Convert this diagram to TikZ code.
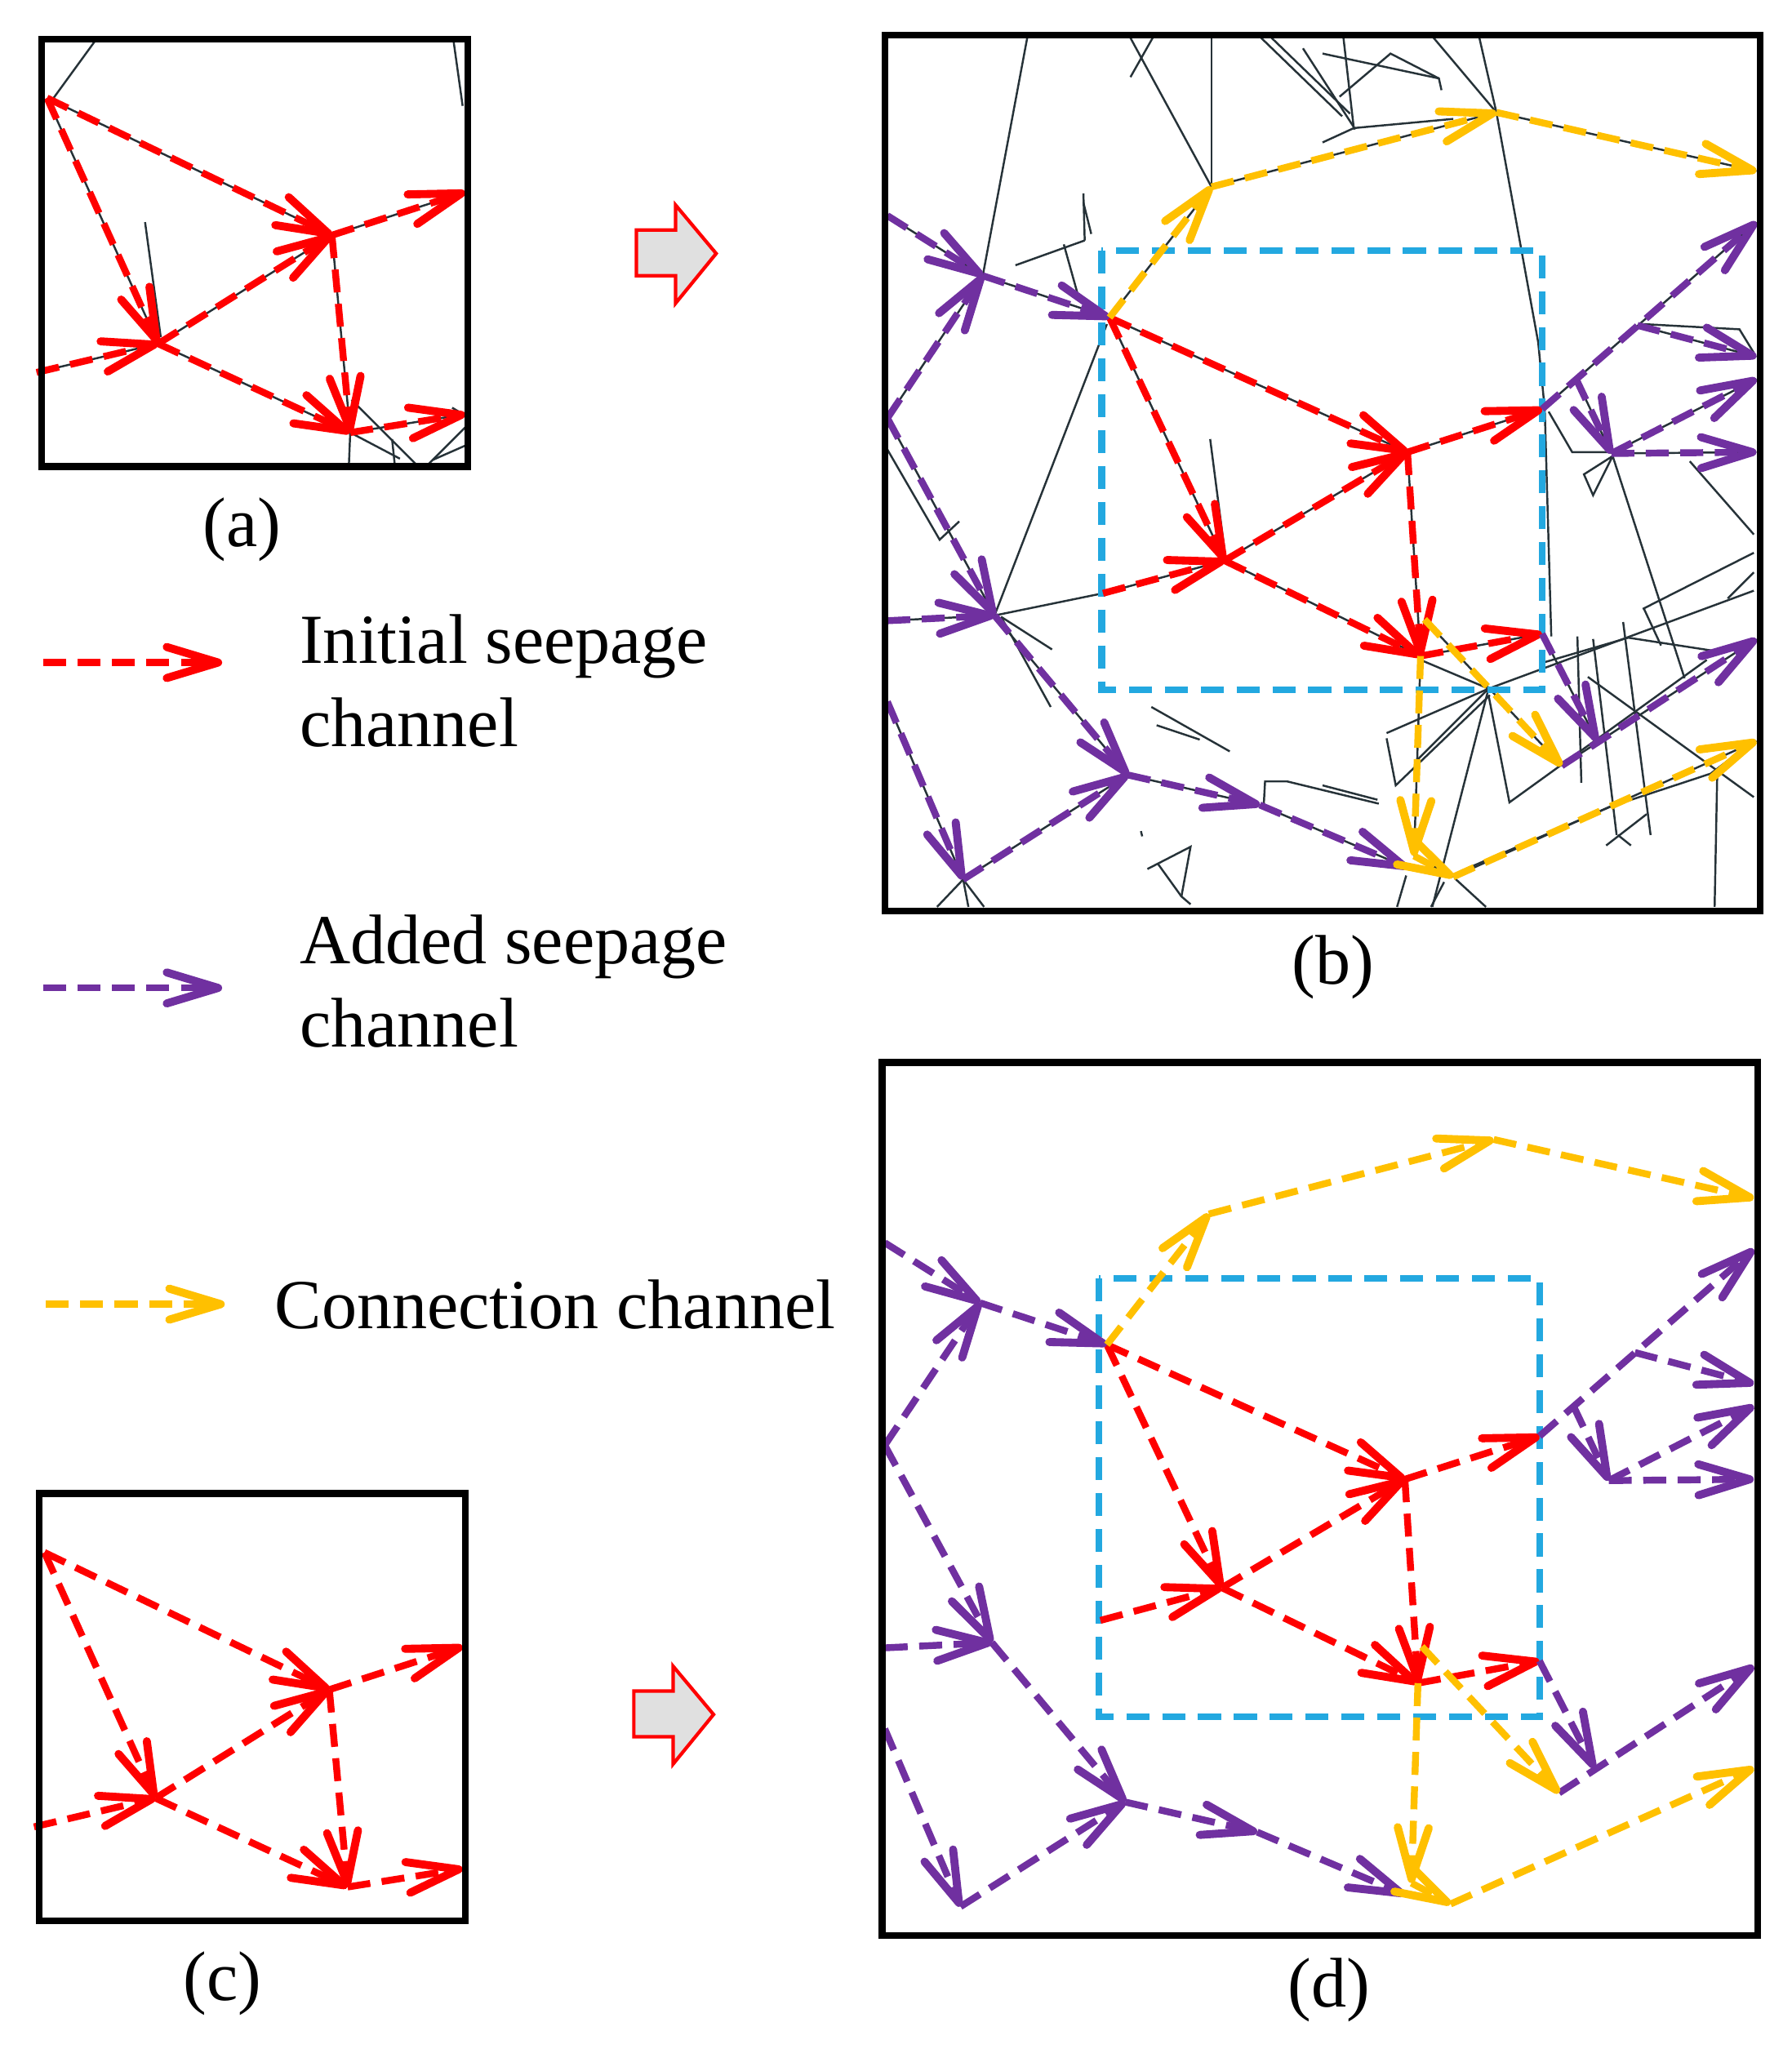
\documentclass[tikz,border=0pt]{standalone}
\usepackage{fontspec}
\setmainfont{Liberation Serif}
\usetikzlibrary{arrows.meta}

\definecolor{seepred}{RGB}{255,0,0}
\definecolor{seeppurple}{RGB}{112,48,160}
\definecolor{seepyellow}{RGB}{255,192,0}
\definecolor{boxblue}{RGB}{35,168,224}
\definecolor{fracgray}{RGB}{38,50,56}

\tikzset{
  chan/.style={line width=2.4pt, dash pattern=on 8pt off 4pt,
    -{Straight Barb[length=6.3mm,width=3.8mm,line width=2.8pt,round]}},
  initial/.style={chan, draw=seepred},
  added/.style={chan, draw=seeppurple},
  conn/.style={chan, draw=seepyellow},
  frac/.style={draw=fracgray, line width=0.7pt},
  panelframe/.style={draw=black, line width=2.4pt},
  zoombox/.style={draw=boxblue, line width=2.3pt, dash pattern=on 8pt off 4.5pt},
  blockarrow/.style={draw=seepred, line width=1.2pt, fill=black!12},
  lbl/.style={font=\fontsize{24.5}{29}\selectfont, inner sep=0pt}
}

% small network of panels (a) and (c)
\newcommand{\initcoords}{%
  \coordinate (s)  at (36,75);
  \coordinate (n1) at (254,180);
  \coordinate (n2) at (121,263);
  \coordinate (n3) at (268,331);
  \coordinate (o1) at (356,147);
  \coordinate (o2) at (356,317);
  \coordinate (i1) at (28,285);
}
\newcommand{\initnet}[1]{%
  \draw[#1] (s) -- (n1);
  \draw[#1] (s) -- (n2);
  \draw[#1] (i1) -- (n2);
  \draw[#1] (n2) -- (n1);
  \draw[#1] (n2) -- (n3);
  \draw[#1] (n1) -- (n3);
  \draw[#1] (n1) -- (o1);
  \draw[#1] (n3) -- (o2);
}

% large network of panels (b) and (d)
\newcommand{\netcoords}{%
  \coordinate (r0)  at (172,216);
  \coordinate (r1)  at (400,319);
  \coordinate (r2)  at (260,402);
  \coordinate (r3)  at (410,475);
  \coordinate (ro1) at (503,286);
  \coordinate (ro2) at (503,458);
  \coordinate (ri)  at (167,427);
  \coordinate (y1)  at (250,116);
  \coordinate (y2)  at (468,59);
  \coordinate (y3)  at (667,104);
  \coordinate (ys)  at (413,447);
  \coordinate (y4)  at (518,559);
  \coordinate (yd)  at (405,628);
  \coordinate (y5)  at (435,644);
  \coordinate (y6)  at (667,540);
  \coordinate (pi1) at (2,138);
  \coordinate (p1)  at (75,184);
  \coordinate (p2)  at (2,293);
  \coordinate (p3)  at (84,444);
  \coordinate (pi2) at (2,448);
  \coordinate (p4)  at (186,566);
  \coordinate (p5)  at (287,589);
  \coordinate (pe)  at (400,637);
  \coordinate (pi3) at (2,510);
  \coordinate (p6)  at (60,646);
  \coordinate (q1)  at (667,143);
  \coordinate (qb)  at (576,222);
  \coordinate (qb1) at (667,246);
  \coordinate (qd)  at (529,263);
  \coordinate (p7)  at (556,320);
  \coordinate (q2)  at (667,263);
  \coordinate (q3)  at (667,319);
  \coordinate (p8)  at (545,540);
  \coordinate (q4)  at (667,462);
}
\newcommand{\netchannels}[3]{%
  % initial
  \draw[#1] (r0) -- (r1);
  \draw[#1] (r0) -- (r2);
  \draw[#1] (ri) -- (r2);
  \draw[#1] (r2) -- (r1);
  \draw[#1] (r2) -- (r3);
  \draw[#1] (r1) -- (r3);
  \draw[#1] (r1) -- (ro1);
  \draw[#1] (r3) -- (ro2);
  % added
  \draw[#2] (pi1) -- (p1);
  \draw[#2] (p1) -- (r0);
  \draw[#2] (p2) -- (p1);
  \draw[#2] (p2) -- (p3);
  \draw[#2] (pi2) -- (p3);
  \draw[#2] (p3) -- (p4);
  \draw[#2] (p4) -- (p5);
  \draw[#2] (p5) -- (pe);
  \draw[#2] (pi3) -- (p6);
  \draw[#2] (p6) -- (p4);
  \draw[#2] (ro1) -- (q1);
  \draw[#2] (qb) -- (qb1);
  \draw[#2] (qd) -- (p7);
  \draw[#2] (p7) -- (q2);
  \draw[#2] (p7) -- (q3);
  \draw[#2] (ro2) -- (p8);
  \draw[#2] (y4) -- (q4);
  % connection
  \draw[#3] (r0) -- (y1);
  \draw[#3] (y1) -- (y2);
  \draw[#3] (y2) -- (y3);
  \draw[#3] (ys) -- (y4);
  \draw[#3] (r3) -- (yd);
  \draw[#3] (yd) -- (y5);
  \draw[#3] (y5) -- (y6);
}

\begin{document}
\begin{tikzpicture}[x=0.016cm, y=-0.016cm]

  \useasboundingbox (0,0) rectangle (1371,1568);

  % --- (a) ---
  \begin{scope}
    \initcoords
    \draw[frac] (41,75) -- (73,31);
    \draw[frac] (347,31) -- (354,81);
    \draw[frac] (111,170) -- (123,258);
    \draw[frac] (269,306) -- (318,355);
    \draw[frac] (268,331) -- (267,355);
    \draw[frac] (268,331) -- (306,351);
    \draw[frac] (300,336) -- (302,355);
    \draw[frac] (328,355) -- (356,327);
    \draw[frac] (331,352) -- (356,341);
    \draw[frac] (346,312) -- (356,318);
    \initnet{frac}
    \initnet{initial}
    \draw[panelframe] (32,30) rectangle (358,357);
  \end{scope}
  \node[lbl] (labA) at (185,405) {(a)};

  % --- (c) ---
  \begin{scope}[shift={(-2,1113)}]
    \initcoords
    \initnet{initial}
    \draw[panelframe] (32,30) rectangle (358,357);
  \end{scope}
  \node[lbl] (labC) at (170,1518) {(c)};

  % --- block arrows ---
  \draw[blockarrow] (487,176) -- (517,176) -- (517,157) -- (548,194)
    -- (517,232) -- (517,211) -- (487,211) -- cycle;
  \begin{scope}[shift={(-2,1118)}]
    \draw[blockarrow] (487,176) -- (517,176) -- (517,157) -- (548,194)
      -- (517,232) -- (517,211) -- (487,211) -- cycle;
  \end{scope}

  % --- legend ---
  \coordinate (legR1) at (33,507);  \coordinate (legR2) at (170,507);
  \coordinate (legP1) at (33,756);  \coordinate (legP2) at (170,756);
  \coordinate (legY1) at (35,998);  \coordinate (legY2) at (172,998);
  \draw[initial] (legR1) -- (legR2);
  \draw[added] (legP1) -- (legP2);
  \draw[conn] (legY1) -- (legY2);
  % base of a two-line node is the base of its last line
  \node[lbl, anchor=base west, align=left] (legInit) at (229,571) {Initial seepage\\channel};
  \node[lbl, anchor=base west, align=left] (legAdd) at (229,801) {Added seepage\\channel};
  \node[lbl, anchor=base west] (legConn) at (210,1017) {Connection channel};

  % --- (b) ---
  \begin{scope}[shift={(677,27)}]
    \netcoords
    % fractures
    \draw[frac] (109,2) -- (75,184);
    \draw[frac] (188,2) -- (250,116);
    \draw[frac] (205,2) -- (188,32);
    \draw[frac] (250,2) -- (250,116);
    \draw[frac] (455,2) -- (468,59);
    \draw[frac] (420,2) -- (468,59);
    \draw[frac] (468,59) -- (500,235) -- (505,286) -- (510,460);
    \draw[frac] (288,2) -- (350,62);
    \draw[frac] (296,2) -- (356,60);
    \draw[frac] (320,10) -- (360,72);
    \draw[frac] (335,14) -- (424,33) -- (426,42);
    \draw[frac] (348,47) -- (387,14) -- (424,33);
    \draw[frac] (351,2) -- (359,72);
    \draw[frac] (335,82) -- (359,71) -- (435,64);
    \draw[frac] (152,121) -- (153,157);
    \draw[frac] (152,128) -- (158,152);
    \draw[frac] (100,176) -- (153,157);
    \draw[frac] (137,160) -- (149,203);
    \draw[frac] (170,221) -- (84,444);
    \draw[frac] (84,444) -- (167,427);
    \draw[frac] (89,445) -- (128,470);
    \draw[frac] (89,445) -- (127,514);
    \draw[frac] (2,317) -- (42,386) -- (57,372);
    \draw[frac] (204,514) -- (264,548);
    \draw[frac] (208,528) -- (241,539);
    \draw[frac] (290,589) -- (291,571) -- (308,571) -- (378,588);
    \draw[frac] (201,638) -- (234,621) -- (227,659) -- (234,665);
    \draw[frac] (209,634) -- (227,659);
    \draw[frac] (196,609) -- (197,613);
    \draw[frac] (60,646) -- (40,667);
    \draw[frac] (60,646) -- (64,667);
    \draw[frac] (60,646) -- (76,667);
    \draw[frac] (249,309) -- (261,402);
    \draw[frac] (580,221) -- (654,225) -- (665,243);
    \draw[frac] (508,288) -- (526,319) -- (556,319);
    \draw[frac] (535,336) -- (557,322) -- (542,352) -- cycle;
    \draw[frac] (557,322) -- (612,492);
    \draw[frac] (616,326) -- (665,382);
    \draw[frac] (580,439) -- (665,396);
    \draw[frac] (581,439) -- (594,467);
    \draw[frac] (504,480) -- (569,461) -- (634,471);
    \draw[frac] (462,500) -- (665,425);
    \draw[frac] (645,431) -- (665,411);
    \draw[frac] (530,460) -- (533,572);
    \draw[frac] (542,462) -- (560,612);
    \draw[frac] (565,449) -- (586,612);
    \draw[frac] (538,491) -- (665,583);
    \draw[frac] (384,538) -- (391,574) -- (463,505);
    \draw[frac] (384,534) -- (462,500);
    \draw[frac] (462,505) -- (478,587) -- (629,478);
    \draw[frac] (410,478) -- (462,500);
    \draw[frac] (462,500) -- (419,667);
    \draw[frac] (462,500) -- (408,554);
    \draw[frac] (335,574) -- (377,585);
    \draw[frac] (440,640) -- (556,590) -- (632,565) -- (665,540);
    \draw[frac] (637,565) -- (635,667);
    \draw[frac] (552,620) -- (583,596);
    \draw[frac] (561,612) -- (571,620);
    \draw[frac] (392,667) -- (399,643);
    \draw[frac] (418,667) -- (428,648);
    \draw[frac] (460,667) -- (436,645);
    \netchannels{frac}{frac}{frac}
    \draw[zoombox] (166,165) rectangle (503,501);
    \netchannels{initial}{added}{conn}
    \draw[panelframe] (0,0) rectangle (670,670);
  \end{scope}
  \node[lbl] (labB) at (1020,740) {(b)};

  % --- (d) ---
  \begin{scope}[shift={(675,813)}]
    \netcoords
    \draw[zoombox] (166,165) rectangle (503,501);
    \netchannels{initial}{added}{conn}
    \draw[panelframe] (0,0) rectangle (670,668);
  \end{scope}
  \node[lbl] (labD) at (1017,1523) {(d)};

\end{tikzpicture}
\end{document}
